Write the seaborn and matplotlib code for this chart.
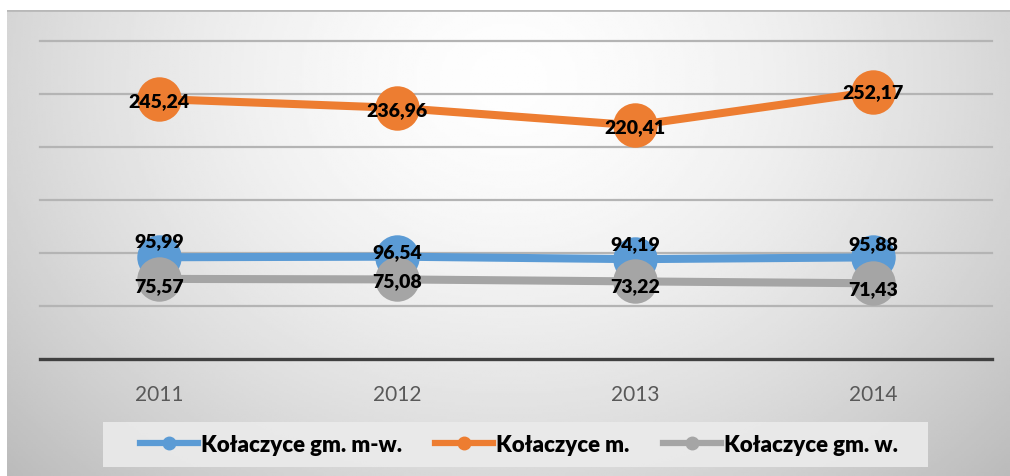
import numpy as np
import pandas as pd
import seaborn as sns
import matplotlib.pyplot as plt
from matplotlib.lines import Line2D
from matplotlib.patches import Rectangle

years = ["2011", "2012", "2013", "2014"]
series = ["Kołaczyce gm. m-w.", "Kołaczyce m.", "Kołaczyce gm. w."]
gm_mw = [95.99, 96.54, 94.19, 95.88]
miasto = [245.24, 236.96, 220.41, 252.17]
gm_w = [75.57, 75.08, 73.22, 71.43]

colors = ["#5B9BD5", "#ED7D31", "#A5A5A5"]
# label nudges in points (Excel labels were moved by hand)
label_dy = [[12, 4, 11, 10], [-1, -1, -1, 0], [-5, -1, -3, -4]]

df = pd.DataFrame({
    "Rok": years * 3,
    "Seria": [s for s in series for _ in years],
    "Wartość": gm_mw + miasto + gm_w,
})

plt.rcParams["font.family"] = ["Lato", "DejaVu Sans"]
fig = plt.figure(figsize=(10.1, 4.77), dpi=100)

# gradient background
bg = fig.add_axes([0.007, 0.0, 0.993, 0.977])
xx, yy = np.meshgrid(np.linspace(0, 1, 400), np.linspace(0, 1, 200))
d = np.sqrt(((xx - 0.5) / 0.62) ** 2 + ((yy - 0.15) / 1.1) ** 2)
img = np.clip(0.995 - 0.22 * d ** 1.6, 0, 1)
bg.imshow(img, cmap="gray", vmin=0, vmax=1, aspect="auto", extent=(0, 1, 0, 1), origin="upper")
bg.axhline(1, color="#B8B8B8", lw=2)
bg.set_axis_off()

# legend box
fig.patches.append(Rectangle((103 / 1010, 9 / 477), 825 / 1010, 45 / 477,
                             transform=fig.transFigure, facecolor="#EBEBEB",
                             edgecolor="none", alpha=0.9, zorder=1))

ax = fig.add_axes([40 / 1010, 117 / 477, 952 / 1010, 318 / 477])
ax.patch.set_alpha(0)
for y in range(50, 301, 50):
    ax.axhline(y, color="#B4B4B4", lw=1.6, zorder=0, clip_on=False)

sns.lineplot(data=df, x="Rok", y="Wartość", hue="Seria", hue_order=series,
             palette=colors, marker="o", markersize=32, linewidth=5.8,
             markeredgewidth=0, legend=False, ax=ax, sort=False)

for vals, dys in zip([gm_mw, miasto, gm_w], label_dy):
    for i, v in enumerate(vals):
        ax.annotate(f"{v:.2f}".replace(".", ","), (i, v), xytext=(0, dys[i]),
                    textcoords="offset points", ha="center", va="center",
                    fontsize=14, fontweight="heavy", color="black", zorder=5)

ax.set_ylim(0, 300)
ax.set_xlim(-0.5, 3.5)
ax.set_xlabel("")
ax.set_ylabel("")
ax.set_yticks([])
for s in ["top", "left", "right"]:
    ax.spines[s].set_visible(False)
ax.spines["bottom"].set_color("#404040")
ax.spines["bottom"].set_linewidth(2.4)
ax.tick_params(axis="x", length=0, pad=18, labelsize=15, labelcolor="#595959")

handles = [Line2D([], [], color=c, lw=4.5, marker="o", markersize=9) for c in colors]
leg = fig.legend(handles, series, loc="center", bbox_to_anchor=(519 / 1010, 31.5 / 477),
                 ncol=3, frameon=False, handlelength=2.6,
                 columnspacing=1.5, handletextpad=0.15,
                 prop={"size": 16, "weight": "heavy"})
leg.set_zorder(2)

fig.savefig("out.png", dpi=100)
